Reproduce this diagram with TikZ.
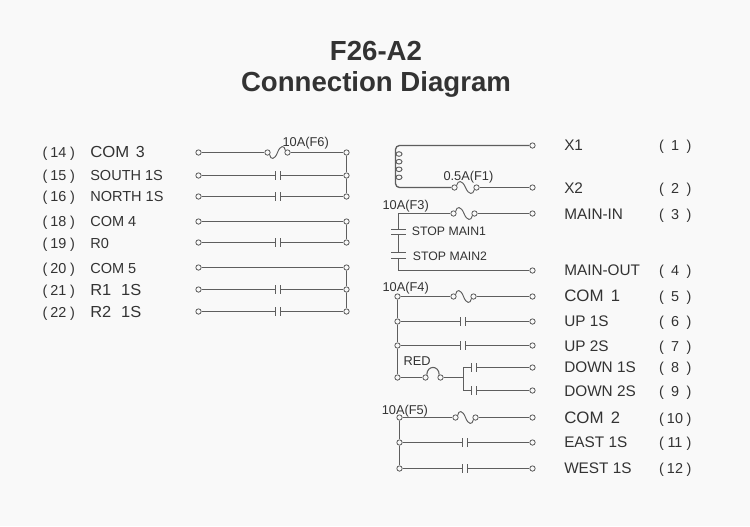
\documentclass[tikz,border=0pt]{standalone}
\usepackage{graphicx}
\usepackage{fontspec}
\setmainfont{Liberation Sans}
\definecolor{bgc}{HTML}{F9F9F9}
\definecolor{wire}{HTML}{5E5E5E}
\definecolor{ink}{HTML}{333333}
\tikzset{
  wirel/.style={draw=wire,line width=1pt},
  fusel/.style={draw=wire,line width=0.7pt},
  term/.style={circle,draw=wire,fill=bgc,line width=0.6pt,minimum size=4pt,inner sep=0pt},
  lblL/.style={text=ink,anchor=base west,inner sep=0pt,font=\fontsize{10.9pt}{12pt}\selectfont},
  lblR/.style={text=ink,anchor=base west,inner sep=0pt,font=\fontsize{11.5pt}{12pt}\selectfont},
  num/.style={text=ink,anchor=base,inner sep=0pt,font=\fontsize{10.8pt}{12pt}\selectfont},
  small/.style={text=ink,anchor=base west,inner sep=0pt,font=\fontsize{9.2pt}{10pt}\selectfont},
  fuselbl/.style={text=ink,anchor=base west,inner sep=0pt,font=\fontsize{9.6pt}{10pt}\selectfont},
  titl/.style={text=ink,anchor=base,inner sep=0pt,font=\bfseries\fontsize{20.7pt}{24pt}\selectfont}
}
% terminal pair: name, y, x1, x2
\newcommand{\tpair}[4]{%
  \node[term] (#1a) at (#3,#2) {};
  \node[term] (#1b) at (#4,#2) {};}
% contact plates across a horizontal wire: name, y, x1, x2
\newcommand{\plates}[4]{%
  \coordinate (#1c) at (#3,#2);
  \coordinate (#1d) at (#4,#2);
  \draw[wirel] (#3,#2-4.5) -- (#3,#2+4.5);
  \draw[wirel] (#4,#2-4.5) -- (#4,#2+4.5);}
% fuse: name, y, x1, x2, sign (+1 rises first)
\newcommand{\fuse}[5]{%
  \tpair{#1}{#2}{#3}{#4}
  \pgfmathsetmacro\fw{#4-#3}
  \pgfmathsetmacro\fm{#3+0.5*\fw}
  \pgfmathsetmacro\fa{#3+0.15*\fw}
  \pgfmathsetmacro\fb{#3+0.36*\fw}
  \pgfmathsetmacro\fc{#3+0.64*\fw}
  \pgfmathsetmacro\fd{#3+0.85*\fw}
  \pgfmathsetmacro\fu{#2-#5*7.5}
  \pgfmathsetmacro\fl{#2+#5*7.5}
  \pgfmathsetmacro\aa{45*#5}
  \pgfmathsetmacro\ab{180+45*#5}
  \coordinate (#1m) at (\fm,#2);
  \draw[fusel] (#1a.\aa) .. controls (\fa,\fu) and (\fb,\fu) .. (#1m)
     .. controls (\fc,\fl) and (\fd,\fl) .. (#1b.\ab);}
% left row: number, text, y
\newcommand{\lrow}[3]{%
  \node[num] (pa#1) at (45,#3+5) {(};
  \node[num] (nu#1) at (58.5,#3+5) {#1};
  \node[num] (pb#1) at (72.5,#3+5) {)};
  \node[lblL] (la#1) at (90,#3+5) {#2};}
% right row: number, text, y
\newcommand{\rrow}[3]{%
  \node[num] (pa#1) at (661.5,#3+5) {(};
  \node[num] (nu#1) at (675,#3+5) {#1};
  \node[num] (pb#1) at (689,#3+5) {)};
  \node[lblR] (la#1) at (564,#3+5) {#2};}
\begin{document}
\begin{tikzpicture}[x=0.75pt,y=-0.75pt]
\path[fill=bgc] (0,0) rectangle (750,526);
\useasboundingbox (0,0) rectangle (750,526);
\node[titl] (t1) at (376,60) {F26-A2};
\node[titl] (t2) at (376,91) {Connection Diagram};

% ---- left block
\fuse{La}{152.5}{267.5}{287.5}{-1}
\tpair{Lx}{152.5}{198.5}{346.5}
\draw[wirel] (Lxa) -- (Laa);
\draw[wirel] (Lab) -- (Lxb);
\foreach \n/\y in {b/175.5,c/196.5,e/242.5,g/289.5,h/311.5}{
  \tpair{L\n}{\y}{198.5}{346.5}
  \plates{L\n}{\y}{275.5}{280.5}
  \draw[wirel] (L\n a) -- (L\n c);
  \draw[wirel] (L\n d) -- (L\n b);
}
\foreach \n/\y in {d/221.5,f/267.5}{
  \tpair{L\n}{\y}{198.5}{346.5}
  \draw[wirel] (L\n a) -- (L\n b);
}
\draw[wirel] (Lxb) -- (Lbb);
\draw[wirel] (Lbb) -- (Lcb);
\draw[wirel] (Ldb) -- (Leb);
\draw[wirel] (Lfb) -- (Lgb);
\draw[wirel] (Lgb) -- (Lhb);
\node[fuselbl] (f6) at (282.3,146) {10A(F6)};

\lrow{14}{\scalebox{1.15}[1.1]{COM}\hspace{5pt}\scalebox{1.1}{3}}{152.3}
\lrow{15}{SOUTH 1S}{175}
\lrow{16}{NORTH 1S}{196.7}
\lrow{18}{COM 4}{221.7}
\lrow{19}{R0}{243.3}
\lrow{20}{COM 5}{268.3}
\lrow{21}{\scalebox{1.13}[1.1]{R1\hspace{6.6pt}1S}}{290.7}
\lrow{22}{\scalebox{1.13}[1.1]{R2\hspace{6.6pt}1S}}{312.3}

% ---- X1 / X2 with coil
\node[term] (Xb) at (532.5,145.5) {};
\coordinate (Xc) at (395.5,167);
\fuse{Fa}{187.5}{454.5}{476.5}{1}
\node[term] (Yb) at (532.5,187.5) {};
\draw[wirel,rounded corners=3pt] (Xb) -- (395.5,145.5) -- (Xc) -- (395.5,187.5) -- (Faa);
\draw[wirel] (Fab) -- (Yb);
\foreach \y in {154,161.7,169.3,177.3}{
  \draw[fusel] (399,\y) ellipse[x radius=3,y radius=2.3];
}
\node[fuselbl] (f1) at (443.3,180.7) {0.5A(F1)};

% ---- main
\coordinate (Ma) at (398.5,213.5);
\fuse{Fb}{213.5}{453.5}{474.5}{1}
\node[term] (Mb) at (532.5,213.5) {};
\coordinate (Oa) at (398.5,270.5);
\node[term] (Ob) at (532.5,270.5) {};
\coordinate (Sa) at (398.5,229.5);
\coordinate (Sb) at (398.5,234.5);
\coordinate (Sc) at (398.5,252.5);
\coordinate (Sd) at (398.5,258.5);
\draw[wirel] (Mb) -- (Fbb);
\draw[wirel] (Fba) -- (Ma) -- (Sa);
\draw[wirel] (Sb) -- (Sc);
\draw[wirel] (Sd) -- (Oa) -- (Ob);
\foreach \y in {229.5,234.5,252.5,258.5}{
  \draw[wirel] (391,\y) -- (405.5,\y);
}
\node[fuselbl] (f3) at (382.3,209) {10A(F3)};
\node[small] (s1) at (411.7,235) {STOP MAIN1};
\node[small] (s2) at (412.7,260.7) {STOP MAIN2};

% ---- F4 group
\fuse{Fc}{296.5}{453.5}{473.5}{1}
\tpair{Ca}{296.5}{397.5}{532.5}
\draw[wirel] (Caa) -- (Fca);
\draw[wirel] (Fcb) -- (Cab);
\foreach \n/\y in {Cb/321.5,Cc/345.5}{
  \tpair{\n}{\y}{397.5}{532.5}
  \plates{\n}{\y}{460.5}{465.5}
  \draw[wirel] (\n a) -- (\n c);
  \draw[wirel] (\n d) -- (\n b);
}
\node[term] (Cda) at (397.5,377.5) {};
\node[term] (Ra) at (425.5,377.5) {};
\node[term] (Rb) at (440.5,377.5) {};
\draw[fusel,line width=0.8pt] (Ra.65) .. controls (427,365) and (439,365) .. (Rb.115);
\coordinate (Rj) at (463.5,377.5);
\coordinate (Dt) at (463.5,367.5);
\coordinate (Dl) at (463.5,390.5);
\node[term] (Dtb) at (532.5,367.5) {};
\node[term] (Dlb) at (532.5,390.5) {};
\plates{Dt}{367.5}{471.5}{476.5}
\plates{Dl}{390.5}{471.5}{476.5}
\draw[wirel] (Cda) -- (Ra);
\draw[wirel] (Rb) -- (Rj);
\draw[wirel] (Dtc) -- (Dt) -- (Dl) -- (Dlc);
\draw[wirel] (Dtd) -- (Dtb);
\draw[wirel] (Dld) -- (Dlb);
\draw[wirel] (Caa) -- (Cba);
\draw[wirel] (Cba) -- (Cca);
\draw[wirel] (Cca) -- (Cda);
\node[fuselbl] (f4) at (382.3,291.7) {10A(F4)};
\node[fuselbl] (red) at (403.3,365) {RED};

% ---- F5 group
\fuse{Fd}{417.5}{455.5}{475.5}{1}
\tpair{Ea}{417.5}{399.5}{532.5}
\draw[wirel] (Eaa) -- (Fda);
\draw[wirel] (Fdb) -- (Eab);
\foreach \n/\y in {Eb/442.5,Ec/468.5}{
  \tpair{\n}{\y}{399.5}{532.5}
  \plates{\n}{\y}{462.5}{467.5}
  \draw[wirel] (\n a) -- (\n c);
  \draw[wirel] (\n d) -- (\n b);
}
\draw[wirel] (Eaa) -- (Eba);
\draw[wirel] (Eba) -- (Eca);
\node[fuselbl] (f5) at (381.5,414) {10A(F5)};

% ---- right labels
\rrow{1}{X1}{145.7}
\rrow{2}{X2}{188.3}
\rrow{3}{MAIN-IN}{214.3}
\rrow{4}{MAIN-OUT}{270}
\rrow{5}{\scalebox{1.1}[1.08]{COM}\hspace{5.5pt}\scalebox{1.08}{1}}{296.7}
\rrow{6}{UP 1S}{321}
\rrow{7}{UP 2S}{346}
\rrow{8}{DOWN 1S}{367.3}
\rrow{9}{DOWN 2S}{391.7}
\rrow{10}{\scalebox{1.1}[1.08]{COM}\hspace{5.5pt}\scalebox{1.08}{2}}{418.3}
\rrow{11}{EAST 1S}{442.7}
\rrow{12}{WEST 1S}{468.3}
\end{tikzpicture}
\end{document}
